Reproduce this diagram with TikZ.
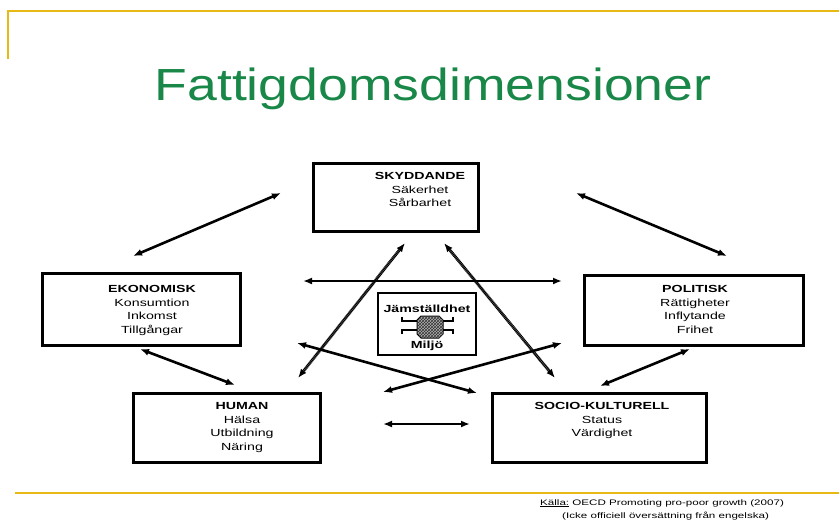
\documentclass[tikz,border=0pt]{standalone}
\usepackage{fontspec}
\setmainfont{Liberation Sans}
\newfontfamily\boxfont[FakeStretch=1.38]{Liberation Sans}
\newfontfamily\titlefont[FakeStretch=1.19]{Liberation Sans}
\newfontfamily\srcfont[FakeStretch=1.45]{Liberation Sans}
\usetikzlibrary{arrows.meta,patterns}
\definecolor{gold}{RGB}{230,185,20}
\definecolor{titlegreen}{RGB}{25,135,72}
\begin{document}
\begin{tikzpicture}[x=1pt,y=-1pt,
  dimbox/.style={draw,line width=3pt,inner sep=0pt},
  boxtext/.style={inner sep=0pt,anchor=north,align=center,font=\boxfont\fontsize{10.3}{13.5}\selectfont},
  biarrow/.style={line width=2.6pt,{Latex[length=9pt,width=7pt]}-{Latex[length=9pt,width=7pt]}},
  hatcharrow/.style={biarrow,line width=3pt,dash pattern=on 1.1pt off 0.5pt,draw=black},
  rule/.style={draw=gold,line width=1.8pt}]
\useasboundingbox (0,0) rectangle (839,528);
% decorative rules
\coordinate (tl) at (8,59);
\coordinate (tc) at (8,11);
\coordinate (tr) at (839,11);
\draw[rule] (tl) -- (tc) -- (tr);
\coordinate (bl) at (15,493);
\coordinate (br) at (839,493);
\draw[rule] (bl) -- (br);
% title
\node[anchor=base,inner sep=0pt,text=titlegreen,font=\titlefont\fontsize{45}{50}\selectfont] (title) at (433,100) {Fattigdomsdimensioner};
% boxes
\node[dimbox,minimum width=165pt,minimum height=68pt] (sky) at (395.5,197) {};
\node[dimbox,minimum width=198pt,minimum height=72pt] (eko) at (141,309) {};
\node[dimbox,minimum width=219pt,minimum height=70pt] (pol) at (693.5,310) {};
\node[dimbox,minimum width=187pt,minimum height=69pt] (hum) at (226.5,427.5) {};
\node[dimbox,minimum width=214pt,minimum height=69pt] (soc) at (599,427.5) {};
\node[boxtext] (skyt) at (420,172.6) {\textbf{SKYDDANDE}\\Säkerhet\\Sårbarhet};
\node[boxtext] (ekot) at (152,285.6) {\textbf{EKONOMISK}\\Konsumtion\\Inkomst\\Tillgångar};
\node[boxtext] (polt) at (695,285.6) {\textbf{POLITISK}\\Rättigheter\\Inflytande\\Frihet};
\node[boxtext] (humt) at (242,402.6) {\textbf{HUMAN}\\Hälsa\\Utbildning\\Näring};
\node[boxtext] (soct) at (602,402.6) {\textbf{SOCIO-KULTURELL}\\Status\\Värdighet};
% central box
\node[draw,line width=1.5pt,minimum width=98pt,minimum height=62pt,inner sep=0pt] (mid) at (427,324) {};
\node[anchor=base,inner sep=0pt,font=\boxfont\bfseries\fontsize{10.3}{12}\selectfont] (jam) at (427,312) {Jämställdhet};
\node[anchor=base,inner sep=0pt,font=\boxfont\bfseries\fontsize{10.3}{12}\selectfont] (milj) at (427,348) {Miljö};
\draw[line width=1pt,fill=black!30,postaction={pattern=crosshatch,pattern color=black!80}] (421,316) -- (439,316) -- (443,320) -- (443,334) -- (439,338) -- (421,338) -- (417,334) -- (417,320) -- cycle;
\draw[line width=1.3pt] (402,317) -- (402,321) -- (417,321);
\draw[line width=1.3pt] (402,334) -- (402,330) -- (417,330);
\draw[line width=1.3pt] (453,317) -- (453,321) -- (443,321);
\draw[line width=1.3pt] (453,334) -- (453,330) -- (443,330);
% arrow end points
\coordinate (a1) at (281,193); \coordinate (a2) at (133,256);
\coordinate (b1) at (576,193); \coordinate (b2) at (727,256);
\coordinate (c1) at (140,349); \coordinate (c2) at (235,385);
\coordinate (d1) at (690,349); \coordinate (d2) at (600,386);
\coordinate (e1) at (303,281); \coordinate (e2) at (562,281);
\coordinate (f1) at (383,424); \coordinate (f2) at (470,424);
\coordinate (g1) at (405,243); \coordinate (g2) at (298,378);
\coordinate (h1) at (444,243); \coordinate (h2) at (555,378);
\coordinate (i1) at (297,343); \coordinate (i2) at (477,393);
\coordinate (j1) at (562,343); \coordinate (j2) at (383,392);
\draw[biarrow] (a1) -- (a2);
\draw[biarrow] (b1) -- (b2);
\draw[biarrow] (c1) -- (c2);
\draw[biarrow] (d1) -- (d2);
\draw[biarrow] (e1) -- (e2);
\draw[biarrow] (f1) -- (f2);
\draw[hatcharrow] (g1) -- (g2);
\draw[hatcharrow] (h1) -- (h2);
\draw[biarrow] (i1) -- (i2);
\draw[biarrow] (j1) -- (j2);
% source
\node[anchor=base west,inner sep=0pt,font=\srcfont\fontsize{8}{9}\selectfont] (src1) at (540,505) {\underline{Källa:} OECD Promoting pro-poor growth (2007)};
\node[anchor=base west,inner sep=0pt,font=\srcfont\fontsize{8}{9}\selectfont] (src2) at (562,518) {(Icke officiell översättning från engelska)};
\end{tikzpicture}
\end{document}
